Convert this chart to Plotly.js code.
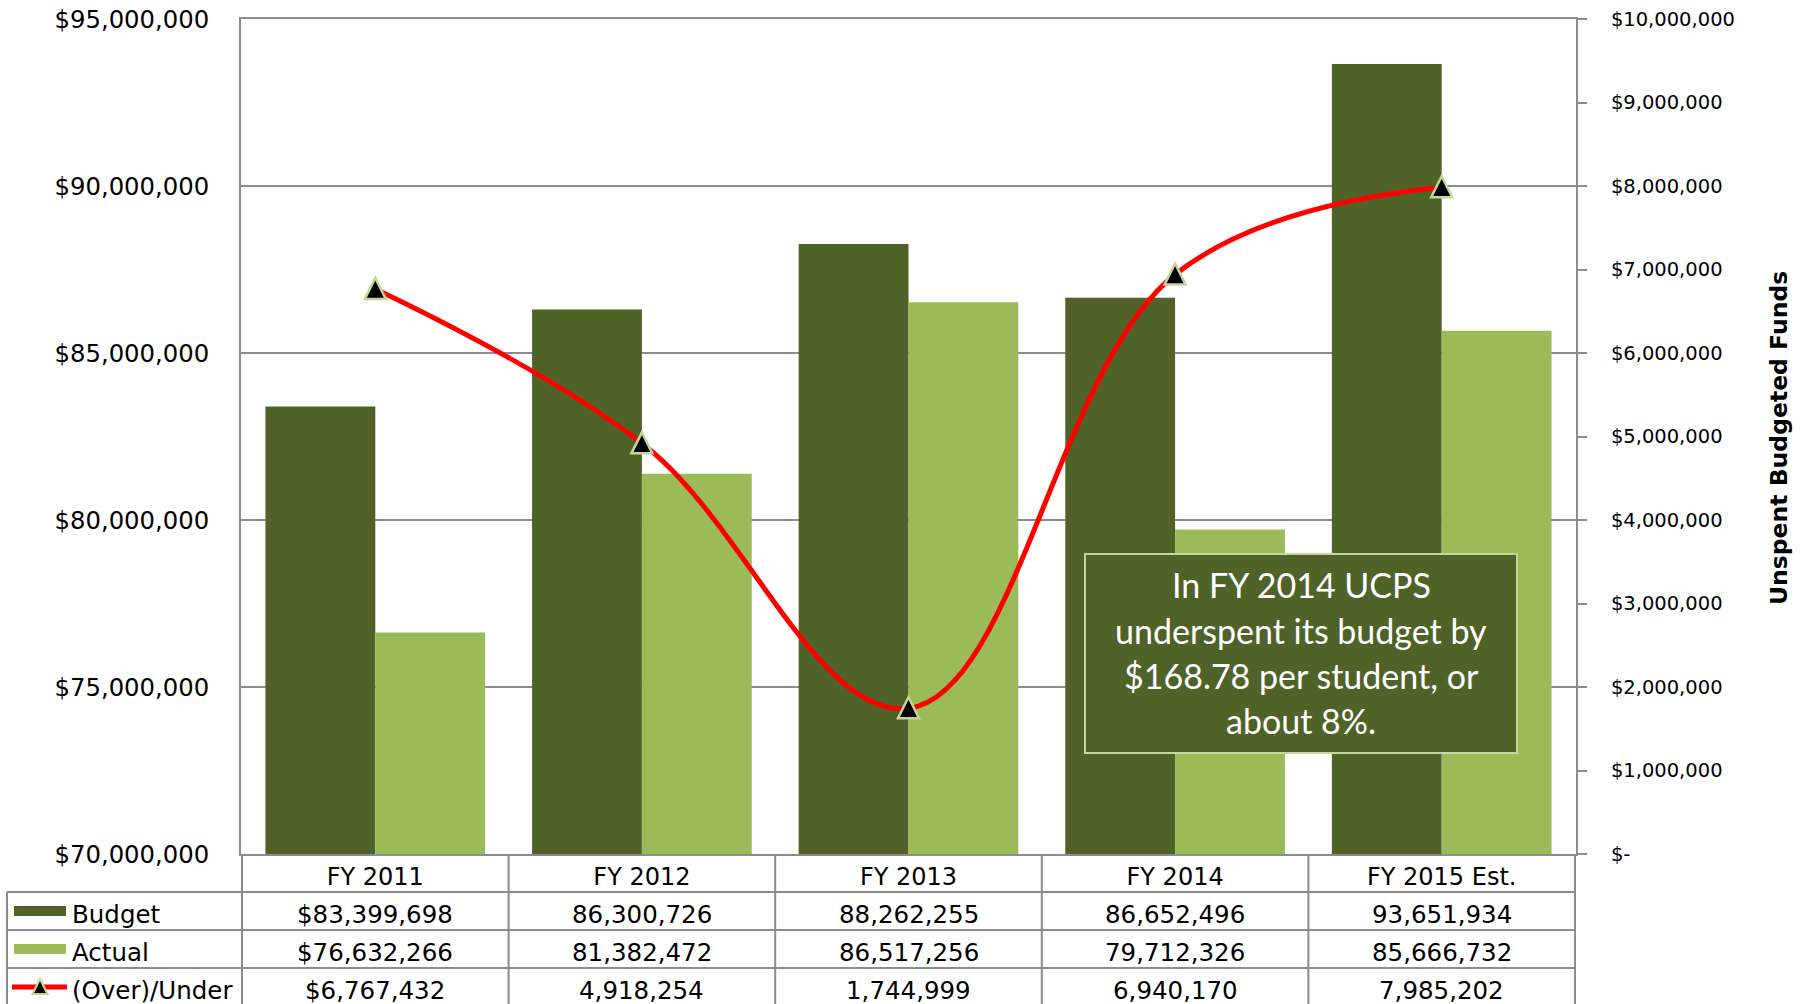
<!DOCTYPE html>
<html>
<head>
<meta charset="utf-8">
<script src="https://cdn.plot.ly/plotly-3.0.1.min.js"></script>
<style>
  html, body { margin: 0; padding: 0; background: #ffffff; }
  #chart { width: 1802px; height: 1004px; }
</style>
</head>
<body>
<div id="chart"></div>
<script>
// ---------- data ----------
const categories = ['FY 2011', 'FY 2012', 'FY 2013', 'FY 2014', 'FY 2015 Est.'];
const budget     = [83399698, 86300726, 88262255, 86652496, 93651934];
const actual     = [76632266, 81382472, 86517256, 79712326, 85666732];
const overUnder  = [6767432, 4918254, 1744999, 6940170, 7985202];
const seriesNames = ['Budget', 'Actual', '(Over)/Under'];
const leftTickVals  = [70000000, 75000000, 80000000, 85000000, 90000000, 95000000];
const rightTickVals = [0, 1000000, 2000000, 3000000, 4000000, 5000000, 6000000, 7000000, 8000000, 9000000, 10000000];
const rightTickText = ['$-', '$1,000,000', '$2,000,000', '$3,000,000', '$4,000,000', '$5,000,000',
                       '$6,000,000', '$7,000,000', '$8,000,000', '$9,000,000', '$10,000,000'];
const rightAxisTitle = 'Unspent Budgeted Funds';
const noteLines = ['In FY 2014 UCPS', 'underspent its budget by', '$168.78 per student, or', 'about 8%.'];

// ---------- styling / layout helpers ----------
const W = 1802, H = 1004;
const L = 241, R = 1576, T = 19, B = 854;
const px = x => (x - L) / (R - L);
const py = y => (B - y) / (B - T);
const DARK = '#4F6228', LIGHT = '#9BBB59', EDGE = '#C3D69B', GRAY = '#8C8C8C';
const FONT = 'DejaVu Sans, Verdana, sans-serif';

const traces = [
  { type: 'bar', name: seriesNames[0], x: categories, y: budget, marker: { color: DARK }, xaxis: 'x', yaxis: 'y', hoverinfo: 'none' },
  { type: 'bar', name: seriesNames[1], x: categories, y: actual, marker: { color: LIGHT }, xaxis: 'x', yaxis: 'y', hoverinfo: 'none' },
  { type: 'scatter', mode: 'lines', name: seriesNames[2], x: categories, y: overUnder, xaxis: 'x', yaxis: 'y2',
    line: { color: '#FF0000', width: 5, shape: 'spline', smoothing: 1.1 },
    cliponaxis: false, hoverinfo: 'none' }
];

const fmt = (v, first) => (first ? '$' : '') + v.toLocaleString('en-US');

const rowCenters = [911, 949, 987];
const rows = [budget, actual, overUnder];
const annotations = [];
const shapes = [];

// table cells
rows.forEach((vals, r) => {
  vals.forEach((v, i) => {
    annotations.push({ xref: 'x', yref: 'paper', x: categories[i], y: py(rowCenters[r] + 3.5), text: fmt(v, i === 0),
      showarrow: false, xanchor: 'center', yanchor: 'middle', font: { family: FONT, size: 24.5, color: '#000' } });
  });
  annotations.push({ xref: 'paper', yref: 'paper', x: px(70), y: py(rowCenters[r] + 3.5), text: seriesNames[r],
    showarrow: false, xanchor: 'left', yanchor: 'middle', font: { family: FONT, size: 24.5, color: '#000' } });
});

// legend keys
shapes.push({ type: 'rect', xref: 'paper', yref: 'paper', x0: px(14), x1: px(66), y0: py(rowCenters[0] + 5), y1: py(rowCenters[0] - 5), fillcolor: DARK, line: { width: 0 } });
shapes.push({ type: 'rect', xref: 'paper', yref: 'paper', x0: px(14), x1: px(66), y0: py(rowCenters[1] + 5), y1: py(rowCenters[1] - 5), fillcolor: LIGHT, line: { width: 0 } });
shapes.push({ type: 'line', xref: 'paper', yref: 'paper', x0: px(12), x1: px(67), y0: py(rowCenters[2]), y1: py(rowCenters[2]), line: { color: '#FF0000', width: 5 } });
{
  const cx = 40, cy = rowCenters[2];
  shapes.push({ type: 'path', xref: 'paper', yref: 'paper',
    path: `M ${px(cx - 7.5)} ${py(cy + 7)} L ${px(cx + 7.5)} ${py(cy + 7)} L ${px(cx)} ${py(cy - 8)} Z`,
    fillcolor: '#000', line: { color: EDGE, width: 2 } });
}

// line markers: triangles anchored at each data point
overUnder.forEach((v, i) => {
  shapes.push({ type: 'path', xref: 'x', yref: 'y2', xsizemode: 'pixel', ysizemode: 'pixel',
    xanchor: categories[i], yanchor: v, layer: 'above',
    path: 'M -10.5 -10 L 10.5 -10 L 0 11 Z', fillcolor: '#000000', line: { color: EDGE, width: 2.5 } });
});

// table grid lines
const tl = { color: GRAY, width: 2 };
[892, 930, 968].forEach(y => shapes.push({ type: 'line', xref: 'paper', yref: 'paper', x0: px(7), x1: 1, y0: py(y), y1: py(y), line: tl }));
shapes.push({ type: 'line', xref: 'paper', yref: 'paper', x0: px(7), x1: px(7), y0: py(892), y1: py(1010), line: tl });
for (let i = 0; i <= categories.length; i++) {
  shapes.push({ type: 'line', xref: 'x', yref: 'paper', x0: i - 0.5, x1: i - 0.5, y0: 0, y1: py(1010), line: tl });
}

// note box
shapes.push({ type: 'rect', xref: 'paper', yref: 'paper', layer: 'above', x0: px(1085), x1: px(1517), y0: py(753), y1: py(554),
  fillcolor: DARK, line: { color: EDGE, width: 2 } });
noteLines.forEach((t, k) => {
  annotations.push({ xref: 'paper', yref: 'paper', x: px(1301), y: py(585 + 45 * k), text: t, showarrow: false,
    xanchor: 'center', yanchor: 'middle', font: { family: 'Lato, sans-serif', size: 34, color: '#FFFFFF' } });
});

// right axis title
annotations.push({ xref: 'paper', yref: 'paper', x: px(1779), y: py(438), text: '<b>' + rightAxisTitle + '</b>', textangle: -90,
  showarrow: false, xanchor: 'center', yanchor: 'middle', font: { family: FONT, size: 23.5, color: '#000' } });

const layout = {
  width: W, height: H,
  margin: { l: L, r: W - R, t: T, b: H - B, pad: 0 },
  paper_bgcolor: '#FFFFFF', plot_bgcolor: '#FFFFFF',
  font: { family: FONT, size: 24, color: '#000' },
  showlegend: false,
  barmode: 'group', bargap: 0.176, bargroupgap: 0,
  xaxis: { type: 'category', showline: true, linecolor: GRAY, linewidth: 2, mirror: true, ticks: '', showgrid: false,
    tickfont: { family: FONT, size: 24, color: '#000' }, ticklabelstandoff: 0, zeroline: false, fixedrange: true },
  yaxis: { range: [70000000, 95000000], tickmode: 'array', tickvals: leftTickVals, tickformat: '$,.0f',
    showline: true, linecolor: GRAY, linewidth: 2, showgrid: true, gridcolor: GRAY, gridwidth: 1.5, ticks: '',
    zeroline: false, tickfont: { family: FONT, size: 24.3, color: '#000' }, ticklabelstandoff: 25, fixedrange: true },
  yaxis2: { overlaying: 'y', side: 'right', range: [0, 10000000], tickmode: 'array', tickvals: rightTickVals, ticktext: rightTickText,
    showline: true, linecolor: GRAY, linewidth: 2, showgrid: false, ticks: 'outside', ticklen: 9, tickwidth: 2, tickcolor: GRAY,
    zeroline: false, tickfont: { family: FONT, size: 19.5, color: '#000' }, ticklabelstandoff: 20, fixedrange: true },
  shapes: shapes,
  annotations: annotations
};

Plotly.newPlot('chart', traces, layout, { displayModeBar: false, staticPlot: true });
</script>
</body>
</html>
